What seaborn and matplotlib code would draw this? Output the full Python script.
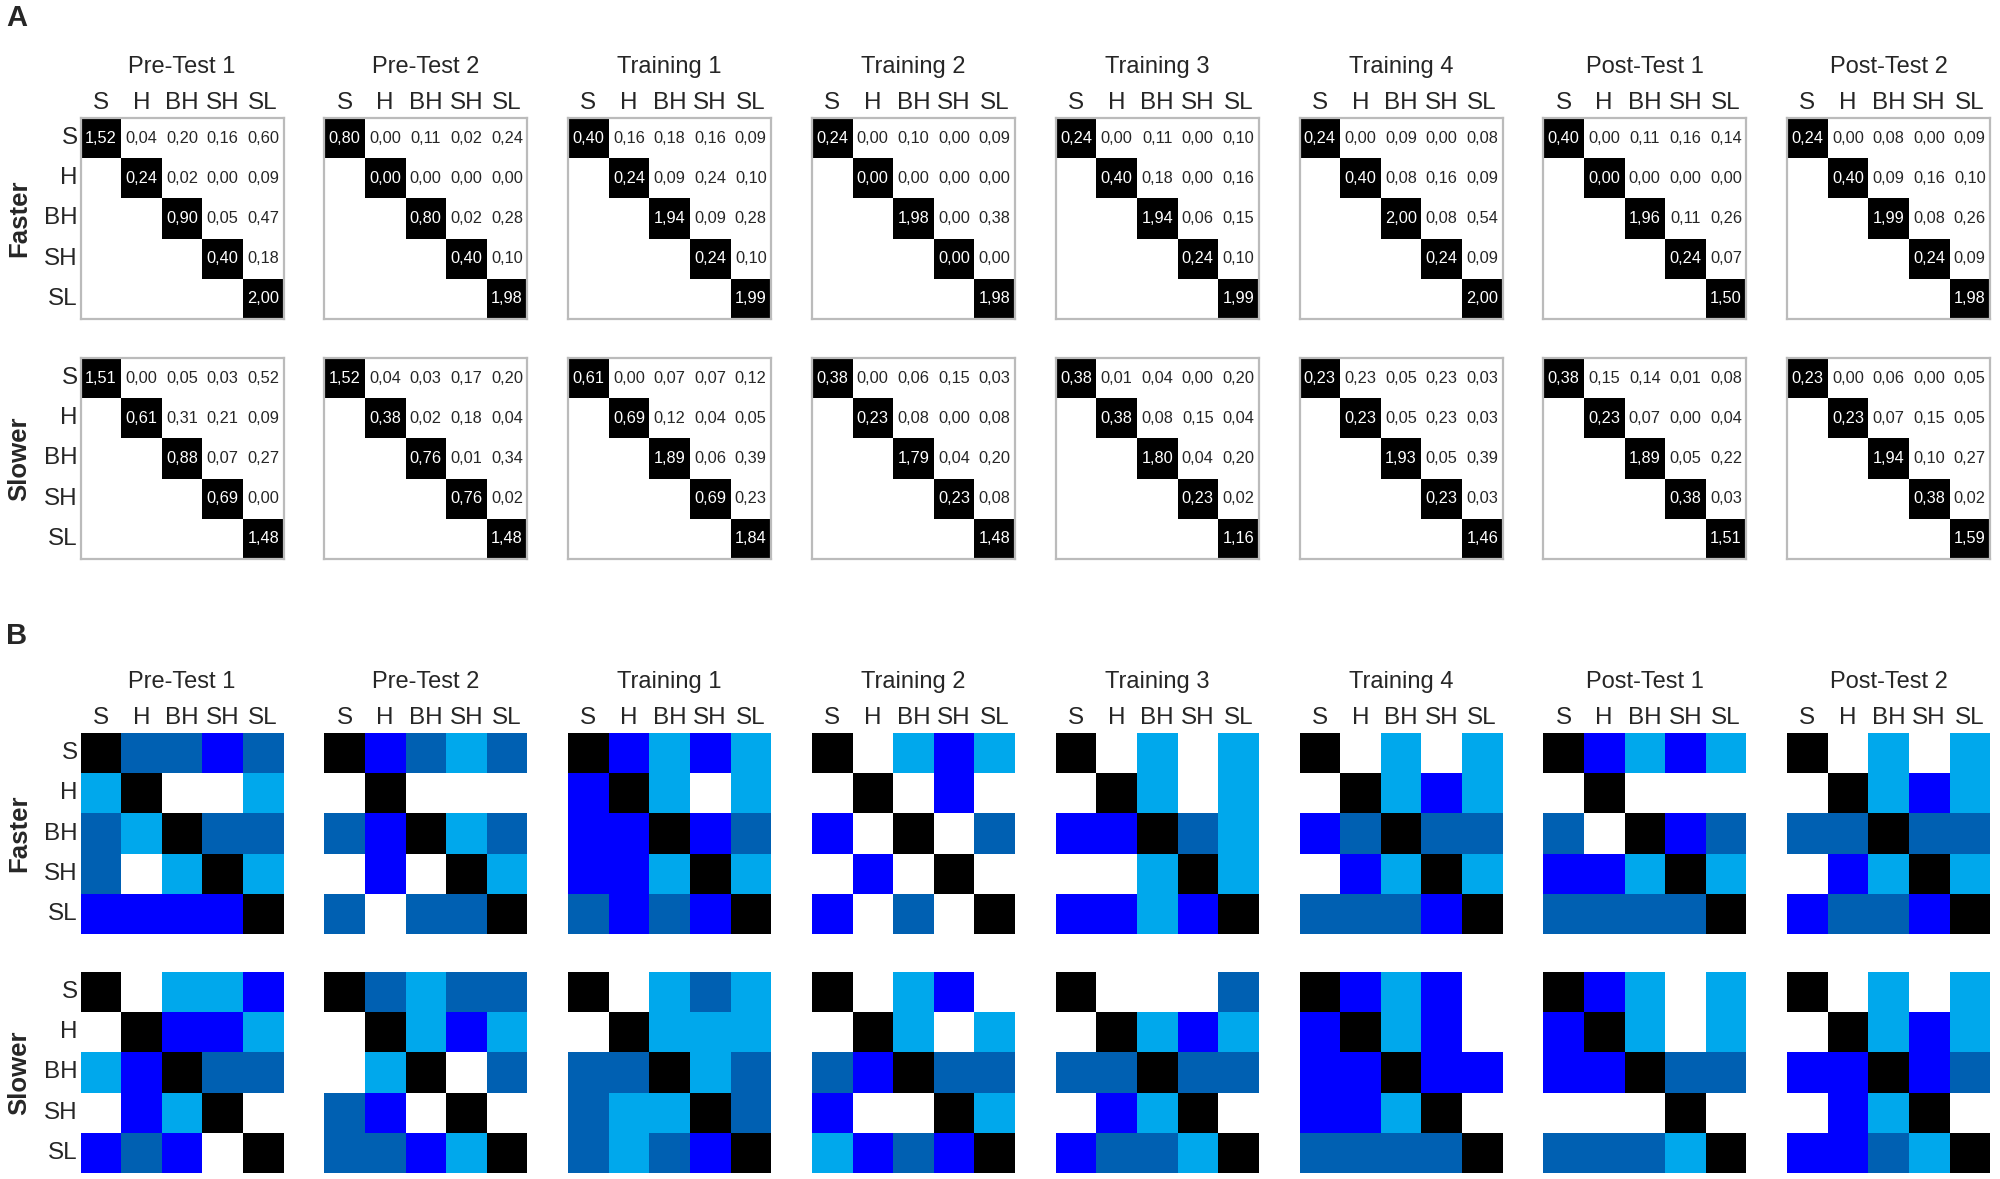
import numpy as np
import pandas as pd
import matplotlib
matplotlib.use("Agg")
import matplotlib.pyplot as plt
from matplotlib.colors import ListedColormap
import seaborn as sns

sns.set_theme(style="white")
plt.rcParams['font.family'] = ['Liberation Sans', 'DejaVu Sans']

# ---------------- data ----------------
sessions = ["Pre-Test 1", "Pre-Test 2", "Training 1", "Training 2",
            "Training 3", "Training 4", "Post-Test 1", "Post-Test 2"]
labels = ["S", "H", "BH", "SH", "SL"]
groups = ["Faster", "Slower"]

# Panel A: upper-triangle values (row by row: S:5, H:4, BH:3, SH:2, SL:1)
faster_values = {
    "Pre-Test 1":  [1.52, 0.04, 0.20, 0.16, 0.60, 0.24, 0.02, 0.00, 0.09, 0.90, 0.05, 0.47, 0.40, 0.18, 2.00],
    "Pre-Test 2":  [0.80, 0.00, 0.11, 0.02, 0.24, 0.00, 0.00, 0.00, 0.00, 0.80, 0.02, 0.28, 0.40, 0.10, 1.98],
    "Training 1":  [0.40, 0.16, 0.18, 0.16, 0.09, 0.24, 0.09, 0.24, 0.10, 1.94, 0.09, 0.28, 0.24, 0.10, 1.99],
    "Training 2":  [0.24, 0.00, 0.10, 0.00, 0.09, 0.00, 0.00, 0.00, 0.00, 1.98, 0.00, 0.38, 0.00, 0.00, 1.98],
    "Training 3":  [0.24, 0.00, 0.11, 0.00, 0.10, 0.40, 0.18, 0.00, 0.16, 1.94, 0.06, 0.15, 0.24, 0.10, 1.99],
    "Training 4":  [0.24, 0.00, 0.09, 0.00, 0.08, 0.40, 0.08, 0.16, 0.09, 2.00, 0.08, 0.54, 0.24, 0.09, 2.00],
    "Post-Test 1": [0.40, 0.00, 0.11, 0.16, 0.14, 0.00, 0.00, 0.00, 0.00, 1.96, 0.11, 0.26, 0.24, 0.07, 1.50],
    "Post-Test 2": [0.24, 0.00, 0.08, 0.00, 0.09, 0.40, 0.09, 0.16, 0.10, 1.99, 0.08, 0.26, 0.24, 0.09, 1.98],
}
slower_values = {
    "Pre-Test 1":  [1.51, 0.00, 0.05, 0.03, 0.52, 0.61, 0.31, 0.21, 0.09, 0.88, 0.07, 0.27, 0.69, 0.00, 1.48],
    "Pre-Test 2":  [1.52, 0.04, 0.03, 0.17, 0.20, 0.38, 0.02, 0.18, 0.04, 0.76, 0.01, 0.34, 0.76, 0.02, 1.48],
    "Training 1":  [0.61, 0.00, 0.07, 0.07, 0.12, 0.69, 0.12, 0.04, 0.05, 1.89, 0.06, 0.39, 0.69, 0.23, 1.84],
    "Training 2":  [0.38, 0.00, 0.06, 0.15, 0.03, 0.23, 0.08, 0.00, 0.08, 1.79, 0.04, 0.20, 0.23, 0.08, 1.48],
    "Training 3":  [0.38, 0.01, 0.04, 0.00, 0.20, 0.38, 0.08, 0.15, 0.04, 1.80, 0.04, 0.20, 0.23, 0.02, 1.16],
    "Training 4":  [0.23, 0.23, 0.05, 0.23, 0.03, 0.23, 0.05, 0.23, 0.03, 1.93, 0.05, 0.39, 0.23, 0.03, 1.46],
    "Post-Test 1": [0.38, 0.15, 0.14, 0.01, 0.08, 0.23, 0.07, 0.00, 0.04, 1.89, 0.05, 0.22, 0.38, 0.03, 1.51],
    "Post-Test 2": [0.23, 0.00, 0.06, 0.00, 0.05, 0.23, 0.07, 0.15, 0.05, 1.94, 0.10, 0.27, 0.38, 0.02, 1.59],
}

# Panel B: category codes  K=diagonal, W=none, L=light blue, M=mid blue, B=bright blue
faster_codes = {
    "Pre-Test 1":  ["KMMBM", "LKWWL", "MLKMM", "MWLKL", "BBBBK"],
    "Pre-Test 2":  ["KBMLM", "WKWWW", "MBKLM", "WBWKL", "MWMMK"],
    "Training 1":  ["KBLBL", "BKLWL", "BBKBM", "BBLKL", "MBMBK"],
    "Training 2":  ["KWLBL", "WKWBW", "BWKWM", "WBWKW", "BWMWK"],
    "Training 3":  ["KWLWL", "WKLWL", "BBKML", "WWLKL", "BBLBK"],
    "Training 4":  ["KWLWL", "WKLBL", "BMKMM", "WBLKL", "MMMBK"],
    "Post-Test 1": ["KBLBL", "WKWWW", "MWKBM", "BBLKL", "MMMMK"],
    "Post-Test 2": ["KWLWL", "WKLBL", "MMKMM", "WBLKL", "BMMBK"],
}
slower_codes = {
    "Pre-Test 1":  ["KWLLB", "WKBBL", "LBKMM", "WBLKW", "BMBWK"],
    "Pre-Test 2":  ["KMLMM", "WKLBL", "WLKWM", "MBWKW", "MMBLK"],
    "Training 1":  ["KWLML", "WKLLL", "MMKLM", "MLLKM", "MLMBK"],
    "Training 2":  ["KWLBW", "WKLWL", "MBKMM", "BWWKL", "LBMBK"],
    "Training 3":  ["KWWWM", "WKLBL", "MMKMM", "WBLKW", "BMMLK"],
    "Training 4":  ["KBLBW", "BKLBW", "BBKBB", "BBLKW", "MMMMK"],
    "Post-Test 1": ["KBLWL", "BKLWL", "BBKMM", "WWWKW", "MMMLK"],
    "Post-Test 2": ["KWLWL", "WKLBL", "BBKBM", "WBLKW", "BBMLK"],
}
code_order = ["K", "W", "L", "M", "B"]
code_colors = ["#000000", "#FFFFFF", "#00A8EC", "#0060B2", "#0000FF"]

# ---------------- layout (pixels) ----------------
W, H = 2000, 1179
fig = plt.figure(figsize=(W / 100, H / 100), dpi=100)

x0, dx, cw = 80.5, 243.8, 203.0
tops = {("A", "Faster"): 118, ("A", "Slower"): 358,
        ("B", "Faster"): 733, ("B", "Slower"): 972}
ch = 201.0
title_y = {"A": 67, "B": 682}
panel_label_y = {"A": 18, "B": 636}

def add_ax(left, top):
    return fig.add_axes([left / W, 1 - (top + ch) / H, cw / W, ch / H])

n = len(labels)
diag_cmap = ListedColormap(["#000000", "#FFFFFF"])
code_cmap = ListedColormap(code_colors)

def fmt(v):
    return f"{v:.2f}".replace(".", ",")

for panel in ["A", "B"]:
    fig.text(17 / W, 1 - panel_label_y[panel] / H, panel, fontsize=21,
             fontweight="bold", ha="center", va="center")
    for gi, grp in enumerate(groups):
        top = tops[(panel, grp)]
        for j, sess in enumerate(sessions):
            left = x0 + j * dx
            ax = add_ax(left, top)
            if panel == "A":
                vals = (faster_values if grp == "Faster" else slower_values)[sess]
                ann = np.full((n, n), "", dtype=object)
                cat = np.ones((n, n))
                k = 0
                for r in range(n):
                    for c in range(r, n):
                        ann[r, c] = fmt(vals[k])
                        cat[r, c] = 0 if r == c else 1
                        k += 1
                mask = np.tril(np.ones((n, n), dtype=bool), -1)
                df = pd.DataFrame(cat, index=labels, columns=labels)
                sns.heatmap(df, mask=mask, cmap=diag_cmap, vmin=-0.5, vmax=1.5,
                            cbar=False, annot=ann, fmt="", square=False,
                            annot_kws={"fontsize": 11.8}, ax=ax)
                for s in ax.spines.values():
                    s.set_visible(True)
                    s.set_color("#BBBBBB")
                    s.set_linewidth(1.6)
            else:
                codes = (faster_codes if grp == "Faster" else slower_codes)[sess]
                cat = np.array([[code_order.index(ch_) for ch_ in row] for row in codes])
                df = pd.DataFrame(cat, index=labels, columns=labels)
                sns.heatmap(df, cmap=code_cmap, vmin=-0.5, vmax=4.5, cbar=False,
                            square=False, ax=ax)
            ax.set_xlabel("")
            ax.set_ylabel("")
            ax.tick_params(length=0)
            if gi == 0:
                ax.xaxis.tick_top()
                ax.set_xticklabels(labels, fontsize=17.5, rotation=0)
                ax.tick_params(axis="x", pad=3)
                fig.text((left + cw / 2) / W, 1 - title_y[panel] / H, sess,
                         fontsize=17, ha="center", va="center")
            else:
                ax.set_xticks([])
            if j == 0:
                ax.set_yticklabels(labels, fontsize=17.5, rotation=0)
                ax.tick_params(axis="y", pad=2)
                fig.text(19 / W, 1 - (top + ch / 2) / H, grp, fontsize=18.5,
                         fontweight="bold", rotation=90, ha="center", va="center")
            else:
                ax.set_yticks([])

fig.savefig("out.png", dpi=100, facecolor="white")
